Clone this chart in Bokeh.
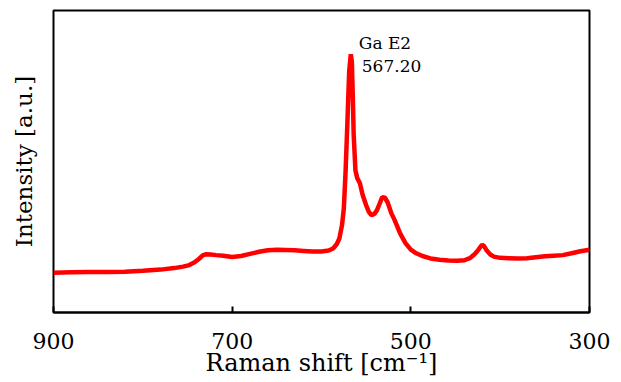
from bokeh.plotting import figure
from bokeh.models import Range1d, FixedTicker, ColumnDataSource, Label
from bokeh.embed import file_html
from bokeh.resources import INLINE

# Raman shift [cm^-1]
raman_shift = [900, 880, 860, 840, 820, 800, 780, 765, 755, 748, 742, 737, 733, 729,
               724, 718, 710, 700, 690, 680, 670, 660, 650, 640, 630, 620, 610, 600,
               592, 587, 583, 580, 577, 575, 573, 571, 569, 567.2, 566, 565, 564, 562,
               560, 557, 554, 550, 547, 544, 541, 538, 535, 532, 529, 526, 522, 518,
               512, 506, 500, 494, 487, 478, 468, 458, 448, 440, 434, 429, 425, 422,
               420, 418, 415, 411, 407, 400, 390, 380, 370, 360, 350, 340, 330, 320,
               310, 300]
# Intensity [a.u.]
intensity = [132, 133, 134, 134, 135, 138, 142, 147, 152, 157, 166, 178, 189, 193,
             192, 190, 188, 184, 187, 194, 201, 206, 208, 207, 206, 204, 202, 202,
             205, 212, 226, 245, 290, 345, 470, 630, 800, 855, 830, 720, 590, 470,
             445, 428, 390, 355, 333, 322, 326, 338, 360, 382, 380, 365, 330, 305,
             262, 230, 208, 196, 187, 179, 175, 172, 171, 173, 180, 192, 205, 218,
             224, 220, 205, 192, 185, 181, 180, 179, 180, 183, 186, 188, 190, 196,
             203, 208]
x_ticks = [900, 700, 500, 300]
peak_shift = 567.2
peak_name = "Ga E2"
peak_value = "567.20"

FONT = "DejaVu Serif"

p = figure(width=621, height=382, output_backend="svg", toolbar_location=None,
           x_range=Range1d(900, 300), y_range=Range1d(0, 1000),
           min_border_left=53, min_border_right=32, min_border_top=10,
           min_border_bottom=70, background_fill_color="white",
           border_fill_color="white")
p.grid.visible = False
p.outline_line_color = "black"
p.outline_line_width = 2

xa = p.xaxis[0]
xa.ticker = FixedTicker(ticks=x_ticks)
xa.major_tick_in = 6
xa.major_tick_out = 0
xa.major_tick_line_width = 2
xa.minor_tick_line_color = None
xa.axis_line_width = 2
xa.major_label_standoff = 20
xa.major_label_text_font = FONT
xa.major_label_text_font_size = "22px"
xa.major_label_text_color = "black"
xa.axis_label = "Raman shift [cm⁻¹]"
xa.axis_label_text_font = FONT
xa.axis_label_text_font_size = "24px"
xa.axis_label_text_font_style = "normal"
xa.axis_label_text_color = "black"
xa.axis_label_standoff = -3

ya = p.yaxis[0]
ya.ticker = FixedTicker(ticks=[])
ya.major_tick_in = 0
ya.major_tick_out = 0
ya.minor_tick_line_color = None
ya.axis_line_color = None
ya.major_label_standoff = 0
ya.axis_label = "Intensity [a.u.]"
ya.axis_label_text_font = FONT
ya.axis_label_text_font_size = "23px"
ya.axis_label_text_font_style = "normal"
ya.axis_label_text_color = "black"
ya.axis_label_standoff = 17

src = ColumnDataSource(data=dict(x=raman_shift, y=intensity))
p.line("x", "y", source=src, line_color="#ff0000", line_width=4.5)

p.add_layout(Label(x=peak_shift, y=891, text=peak_name, x_offset=8,
                   text_font=FONT, text_font_size="17px", text_color="black",
                   text_align="left", text_baseline="alphabetic"))
p.add_layout(Label(x=peak_shift, y=815, text=peak_value, x_offset=11,
                   text_font=FONT, text_font_size="17px", text_color="black",
                   text_align="left", text_baseline="alphabetic"))

open("out.html", "w").write(file_html(p, INLINE))
